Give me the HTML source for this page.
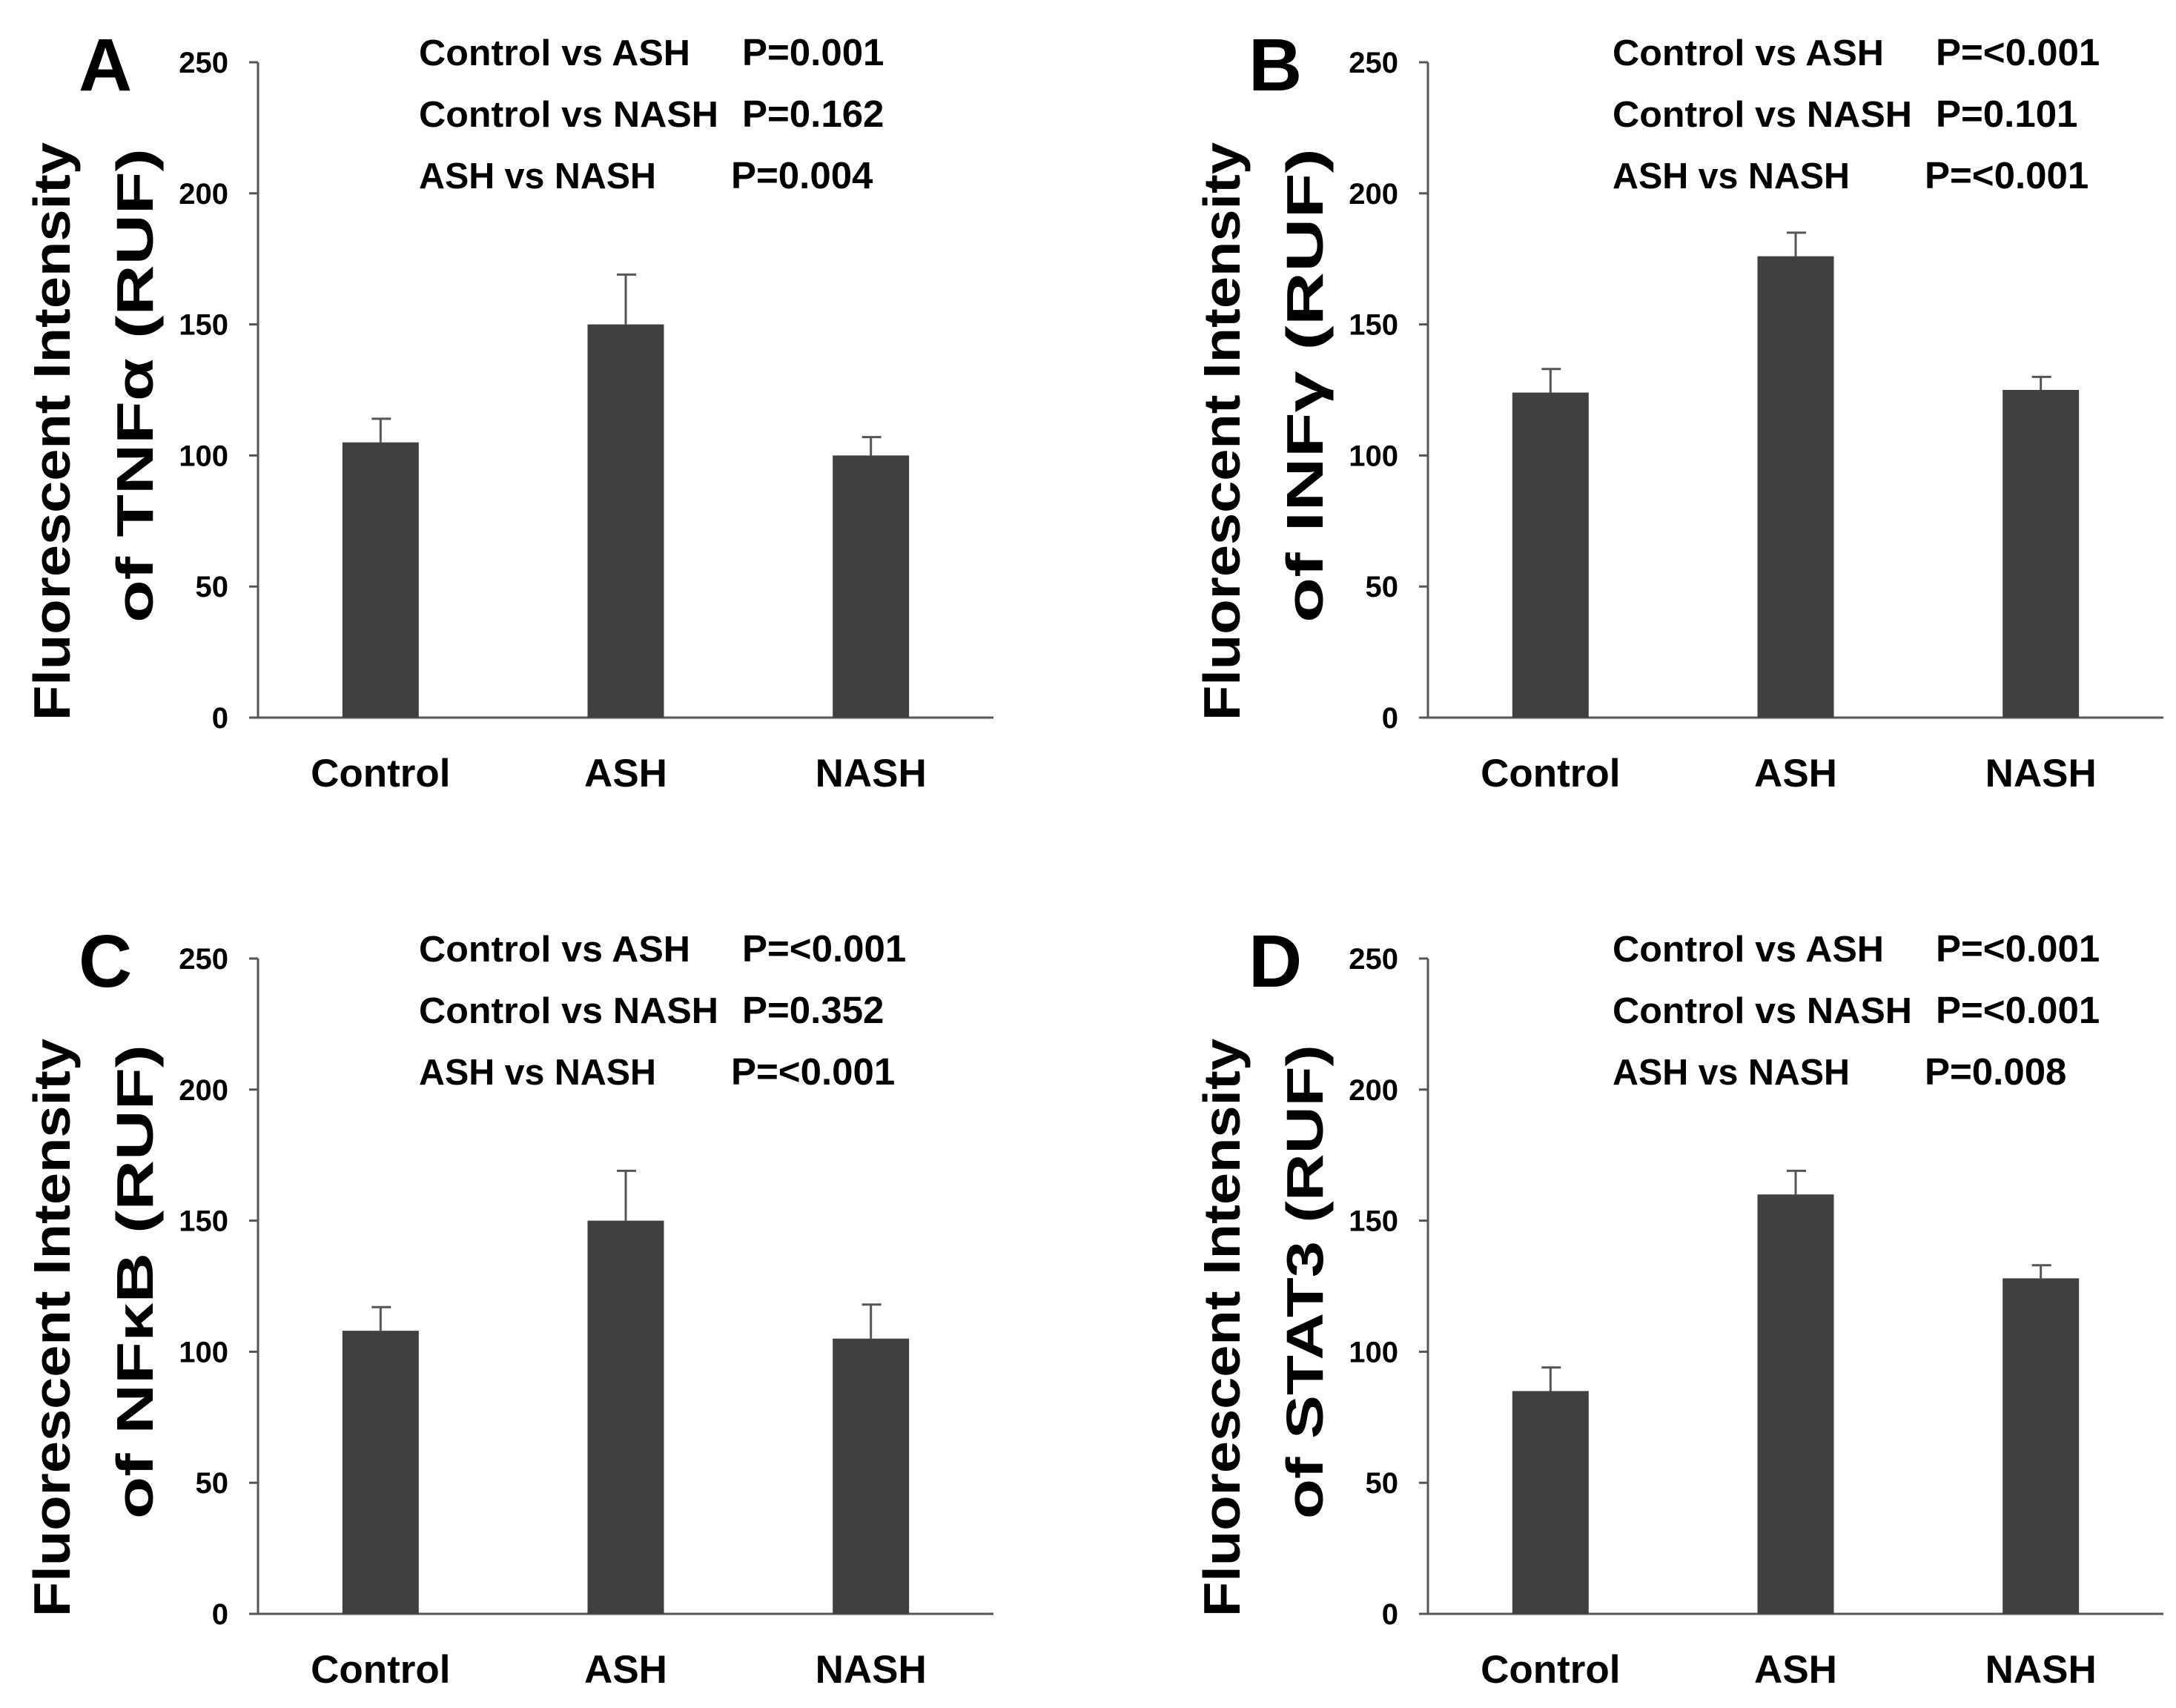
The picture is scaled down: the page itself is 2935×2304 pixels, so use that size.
<!DOCTYPE html>
<html><head><meta charset="utf-8"><style>
html,body{margin:0;padding:0;background:#fff;}
svg{display:block;font-family:"Liberation Sans",sans-serif;}
</style></head>
<body>
<svg id="chart" width="2935" height="2304" viewBox="0 0 2935 2304" xmlns="http://www.w3.org/2000/svg"></svg>
<script>
const categories = ["Control","ASH","NASH"];
const panelLetters = ["A","B","C","D"];
const panelMarkers = ["TNFα","INFγ","NFκB","STAT3"];
const valuesA = [105,150,100]; const errA = [9,19,7];
const valuesB = [124,176,125]; const errB = [9,9,5];
const valuesC = [108,150,105]; const errC = [9,19,13];
const valuesD = [85,160,128]; const errD = [9,9,5];
const ticks = [0,50,100,150,200,250];
const compLabels = ["Control vs ASH","Control vs NASH","ASH vs NASH"];
const pA = ["P=0.001","P=0.162","P=0.004"];
const pB = ["P=<0.001","P=0.101","P=<0.001"];
const pC = ["P=<0.001","P=0.352","P=<0.001"];
const pD = ["P=<0.001","P=<0.001","P=0.008"];

const svg = document.getElementById('chart');
const NS = "http://www.w3.org/2000/svg";
function mk(tag, attrs, parent){const e=document.createElementNS(NS,tag);for(const k in attrs)e.setAttribute(k,attrs[k]);(parent||svg).appendChild(e);return e;}

const panels = [
 {ox:0, oy:0, vals:valuesA, errs:errA, p:pA, lx:565},
 {ox:1578, oy:0, vals:valuesB, errs:errB, p:pB, lx:597},
 {ox:0, oy:1209, vals:valuesC, errs:errC, p:pC, lx:565},
 {ox:1578, oy:1209, vals:valuesD, errs:errD, p:pD, lx:597}
];
const pX2 = [[1001,1001,986],[1033,1033,1018],[1001,1001,986],[1033,1033,1018]];
const labW = [366, 404, 320];

panels.forEach((P,i)=>{
  const g = mk('g',{});
  
  
  const x0=P.ox+348, x1=P.ox+1340, yTop=P.oy+84, yBot=P.oy+968;
  const yScale = v => yBot - (v/250)*(yBot-yTop);
  const band = (x1-x0)/3;
  const xC = k => x0 + band*(k+0.5);
  const L = mk('text',{x:P.ox+106,y:P.oy+122,'font-size':100,'font-weight':'bold',fill:'#000'},g);
  L.textContent = panelLetters[i];
  
  
  const ya = mk('line',{x1:x0,y1:yTop,x2:x0,y2:yBot,stroke:'#555','stroke-width':3},g);
  
  
  const xa = mk('line',{x1:x0-12,y1:yBot,x2:x1,y2:yBot,stroke:'#555','stroke-width':3},g);
  
  
  ticks.forEach(t=>{
    mk('line',{x1:x0-12,y1:yScale(t),x2:x0,y2:yScale(t),stroke:'#555','stroke-width':3},g);
    const tl = mk('text',{x:x0-40,y:yScale(t)+14,'font-size':40,'font-weight':'bold','text-anchor':'end',fill:'#000'},g);
    tl.textContent = t;
    
    
  });
  const yt1 = mk('text',{x:0,y:0,'font-size':70,'font-weight':'bold',fill:'#000','text-anchor':'middle',textLength:780,lengthAdjust:'spacingAndGlyphs',transform:`translate(${P.ox+94},${P.oy+582}) rotate(-90)`},g);
  yt1.textContent = "Fluorescent Intensity";
  
  
  const yt2 = mk('text',{x:0,y:0,'font-size':70,'font-weight':'bold',fill:'#000','text-anchor':'middle',textLength:640,lengthAdjust:'spacingAndGlyphs',transform:`translate(${P.ox+206},${P.oy+520}) rotate(-90)`},g);
  yt2.textContent = "of "+panelMarkers[i]+" (RUF)";
  
  
  categories.forEach((c,k)=>{
    const v=P.vals[k], e=P.errs[k], w=103;
    const b = mk('rect',{x:xC(k)-w/2,y:yScale(v),width:w,height:yBot-yScale(v),fill:'#404040'},g);
    
    
    const eb = mk('path',{d:`M${xC(k)} ${yScale(v)} V${yScale(v+e)} M${xC(k)-12} ${yScale(v+e)} H${xC(k)+14}`,stroke:'#555','stroke-width':3,fill:'none'},g);
    
    
    const cl = mk('text',{x:xC(k),y:P.oy+1061,'font-size':53,'font-weight':'bold','text-anchor':'middle',fill:'#000'},g);
    cl.textContent = c;
    
    
  });
  compLabels.forEach((c,k)=>{
    const y = P.oy + 88 + k*83;
    const t = mk('text',{x:P.ox+P.lx,y:y,'font-size':49,'font-weight':'bold',fill:'#000',textLength:labW[k],lengthAdjust:'spacingAndGlyphs'},g);
    t.textContent = c;
    
    
    const pv = mk('text',{x:P.ox+pX2[i][k],y:y,'font-size':51,'font-weight':'bold',fill:'#000'},g);
    pv.textContent = P.p[k];
    
    
  });
});
</script>
</body></html>
